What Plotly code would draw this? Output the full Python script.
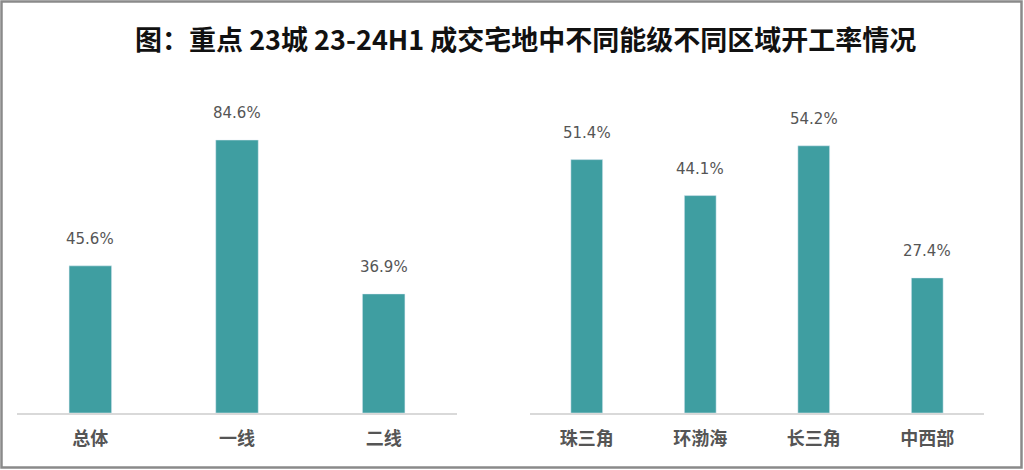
import plotly.graph_objects as go

title_text = "图：重点 23城 23-24H1 成交宅地中不同能级不同区域开工率情况"

tier_categories = ["总体", "一线", "二线"]
tier_values = [45.6, 84.6, 36.9]

region_categories = ["珠三角", "环渤海", "长三角", "中西部"]
region_values = [51.4, 44.1, 54.2, 27.4]

W, H = 1024, 470
BAR_COLOR = "#3f9ea1"
LABEL_COLOR = "#555555"
AXIS_COLOR = "#d9d9d9"

def fx(px):
    return px / W

def fy(py):
    return (H - py) / H

base_y = 413
top_y = 100
left_ppu = 3.227
right_ppu = 4.93

fig = go.Figure()
fig.add_trace(go.Bar(x=tier_categories, y=tier_values, marker_color=BAR_COLOR,
                     width=0.29, xaxis="x", yaxis="y", hoverinfo="skip"))
fig.add_trace(go.Bar(x=region_categories, y=region_values, marker_color=BAR_COLOR,
                     width=0.28, xaxis="x2", yaxis="y2", hoverinfo="skip"))

label_font = dict(family="DejaVu Sans, Arial", size=15, color=LABEL_COLOR)
annotations = []
for c, v in zip(tier_categories, tier_values):
    annotations.append(dict(x=c, y=v, xref="x", yref="y", text=f"{v:.1f}%",
                            showarrow=False, yshift=27, font=label_font))
for c, v in zip(region_categories, region_values):
    annotations.append(dict(x=c, y=v, xref="x2", yref="y2", text=f"{v:.1f}%",
                            showarrow=False, yshift=27, font=label_font))
annotations.append(dict(x=fx(525), y=fy(38), xref="paper", yref="paper", text=f"<b>{title_text}</b>",
                        showarrow=False, xanchor="center", yanchor="middle",
                        font=dict(family="Noto Sans CJK SC", size=27, color="#111111")))

axis_common = dict(showgrid=False, zeroline=False, showline=True, linecolor=AXIS_COLOR,
                   linewidth=1.5, ticks="outside", ticklen=9, tickcolor="rgba(0,0,0,0)",
                   tickfont=dict(family="Noto Sans CJK SC", size=18, color=LABEL_COLOR, weight="bold"),
                   fixedrange=True)
yaxis_common = dict(visible=False, showgrid=False, zeroline=False, fixedrange=True)

fig.update_layout(
    width=W, height=H,
    margin=dict(l=0, r=0, t=0, b=0),
    paper_bgcolor="white", plot_bgcolor="white",
    showlegend=False,
    xaxis=dict(domain=[fx(17), fx(457)], anchor="y", **axis_common),
    yaxis=dict(domain=[fy(base_y), fy(top_y)], range=[0, (base_y - top_y) / left_ppu], anchor="x", **yaxis_common),
    xaxis2=dict(domain=[fx(530), fx(984)], anchor="y2", **axis_common),
    yaxis2=dict(domain=[fy(base_y), fy(top_y)], range=[0, (base_y - top_y) / right_ppu], anchor="x2", **yaxis_common),
    annotations=annotations,
    shapes=[dict(type="rect", xref="paper", yref="paper", x0=fx(1.5), x1=fx(1021.5), y0=fy(467.5), y1=fy(1.5),
                 line=dict(color="#8a8a8a", width=2.5), fillcolor="rgba(0,0,0,0)", layer="above")],
)

fig.write_html(
    "out.html",
    config={"displayModeBar": False},
    post_script="document.body.style.margin='0';document.body.style.overflow='hidden';document.documentElement.style.overflow='hidden';",
)
